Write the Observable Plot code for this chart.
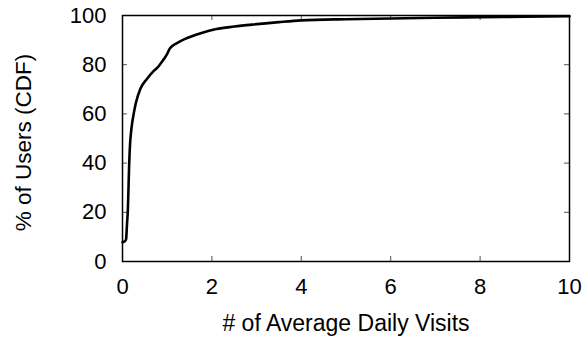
<!DOCTYPE html>
<html>
<head>
<meta charset="utf-8">
<script src="https://cdn.jsdelivr.net/npm/d3@7"></script>
<script src="https://cdn.jsdelivr.net/npm/@observablehq/plot@0.6"></script>
<style>
  html, body { margin: 0; padding: 0; background: #fff; }
</style>
</head>
<body>
<div id="chart"></div>
<script>
// Data (CDF of average daily visits)
const visits = [0, 0.05, 0.08, 0.1, 0.12, 0.15, 0.17, 0.2, 0.25, 0.3, 0.4, 0.55, 0.7, 0.78, 0.85, 0.93, 1.0, 1.05, 1.12, 1.2, 1.4, 1.75, 2.1, 2.5, 2.9, 3.5, 4, 5, 6, 7, 8, 9, 10];
const cdf    = [7.8, 8.2, 9, 15, 21, 40, 48, 54, 60, 64.5, 70.2, 74.3, 77.5, 78.8, 80.4, 82.4, 84.4, 86.3, 87.7, 88.6, 90.5, 92.8, 94.5, 95.5, 96.3, 97.3, 98.0, 98.5, 98.8, 99.1, 99.3, 99.5, 99.7];
const xTicks = [0, 2, 4, 6, 8, 10];
const yTicks = [0, 20, 40, 60, 80, 100];
const xLabel = "# of Average Daily Visits";
const yLabel = "% of Users (CDF)";

const data = visits.map((v, i) => ({x: v, y: cdf[i]}));

const W = 587, H = 339;
const mL = 122, mR = 18, mT = 15, mB = 78;
const pw = W - mL - mR, ph = H - mT - mB;
const tickLen = 5;
const font = "'Liberation Sans', Arial, Helvetica, sans-serif";

const chart = Plot.plot({
  width: W,
  height: H,
  marginLeft: mL,
  marginRight: mR,
  marginTop: mT,
  marginBottom: mB,
  style: {fontFamily: font, background: "#fff", color: "#000"},
  x: {domain: [0, 10]},
  y: {domain: [0, 100]},
  marks: [
    // inward tick marks on all four sides
    Plot.tickY(yTicks, {y: d => d, insetRight: pw - tickLen, stroke: "#555", strokeWidth: 1}),
    Plot.tickY(yTicks, {y: d => d, insetLeft: pw - tickLen, stroke: "#555", strokeWidth: 1}),
    Plot.tickX(xTicks, {x: d => d, insetTop: ph - tickLen, stroke: "#555", strokeWidth: 1}),
    Plot.tickX(xTicks, {x: d => d, insetBottom: ph - tickLen, stroke: "#555", strokeWidth: 1}),
    Plot.axisX({ticks: xTicks, tickSize: 0, tickPadding: 17, fontSize: 22, label: null}),
    Plot.axisY({ticks: yTicks, tickSize: 0, tickPadding: 16, fontSize: 22, label: null}),
    Plot.line(data, {x: "x", y: "y", stroke: "#000", strokeWidth: 2.6, curve: "monotone-x"}),
    Plot.frame({stroke: "#000", strokeWidth: 1.5}),
    Plot.text([xLabel], {frameAnchor: "bottom", lineAnchor: "bottom", textAnchor: "middle", dy: 69, fontSize: 23, letterSpacing: 0.8, fill: "#000"}),
    Plot.text([yLabel], {frameAnchor: "left", lineAnchor: "bottom", textAnchor: "middle", rotate: -90, dx: -92, dy: 4, fontSize: 22.5, fill: "#000"})
  ]
});
chart.querySelectorAll("text").forEach(t => t.setAttribute("fill", "#000"));
document.getElementById("chart").appendChild(chart);
</script>
</body>
</html>
